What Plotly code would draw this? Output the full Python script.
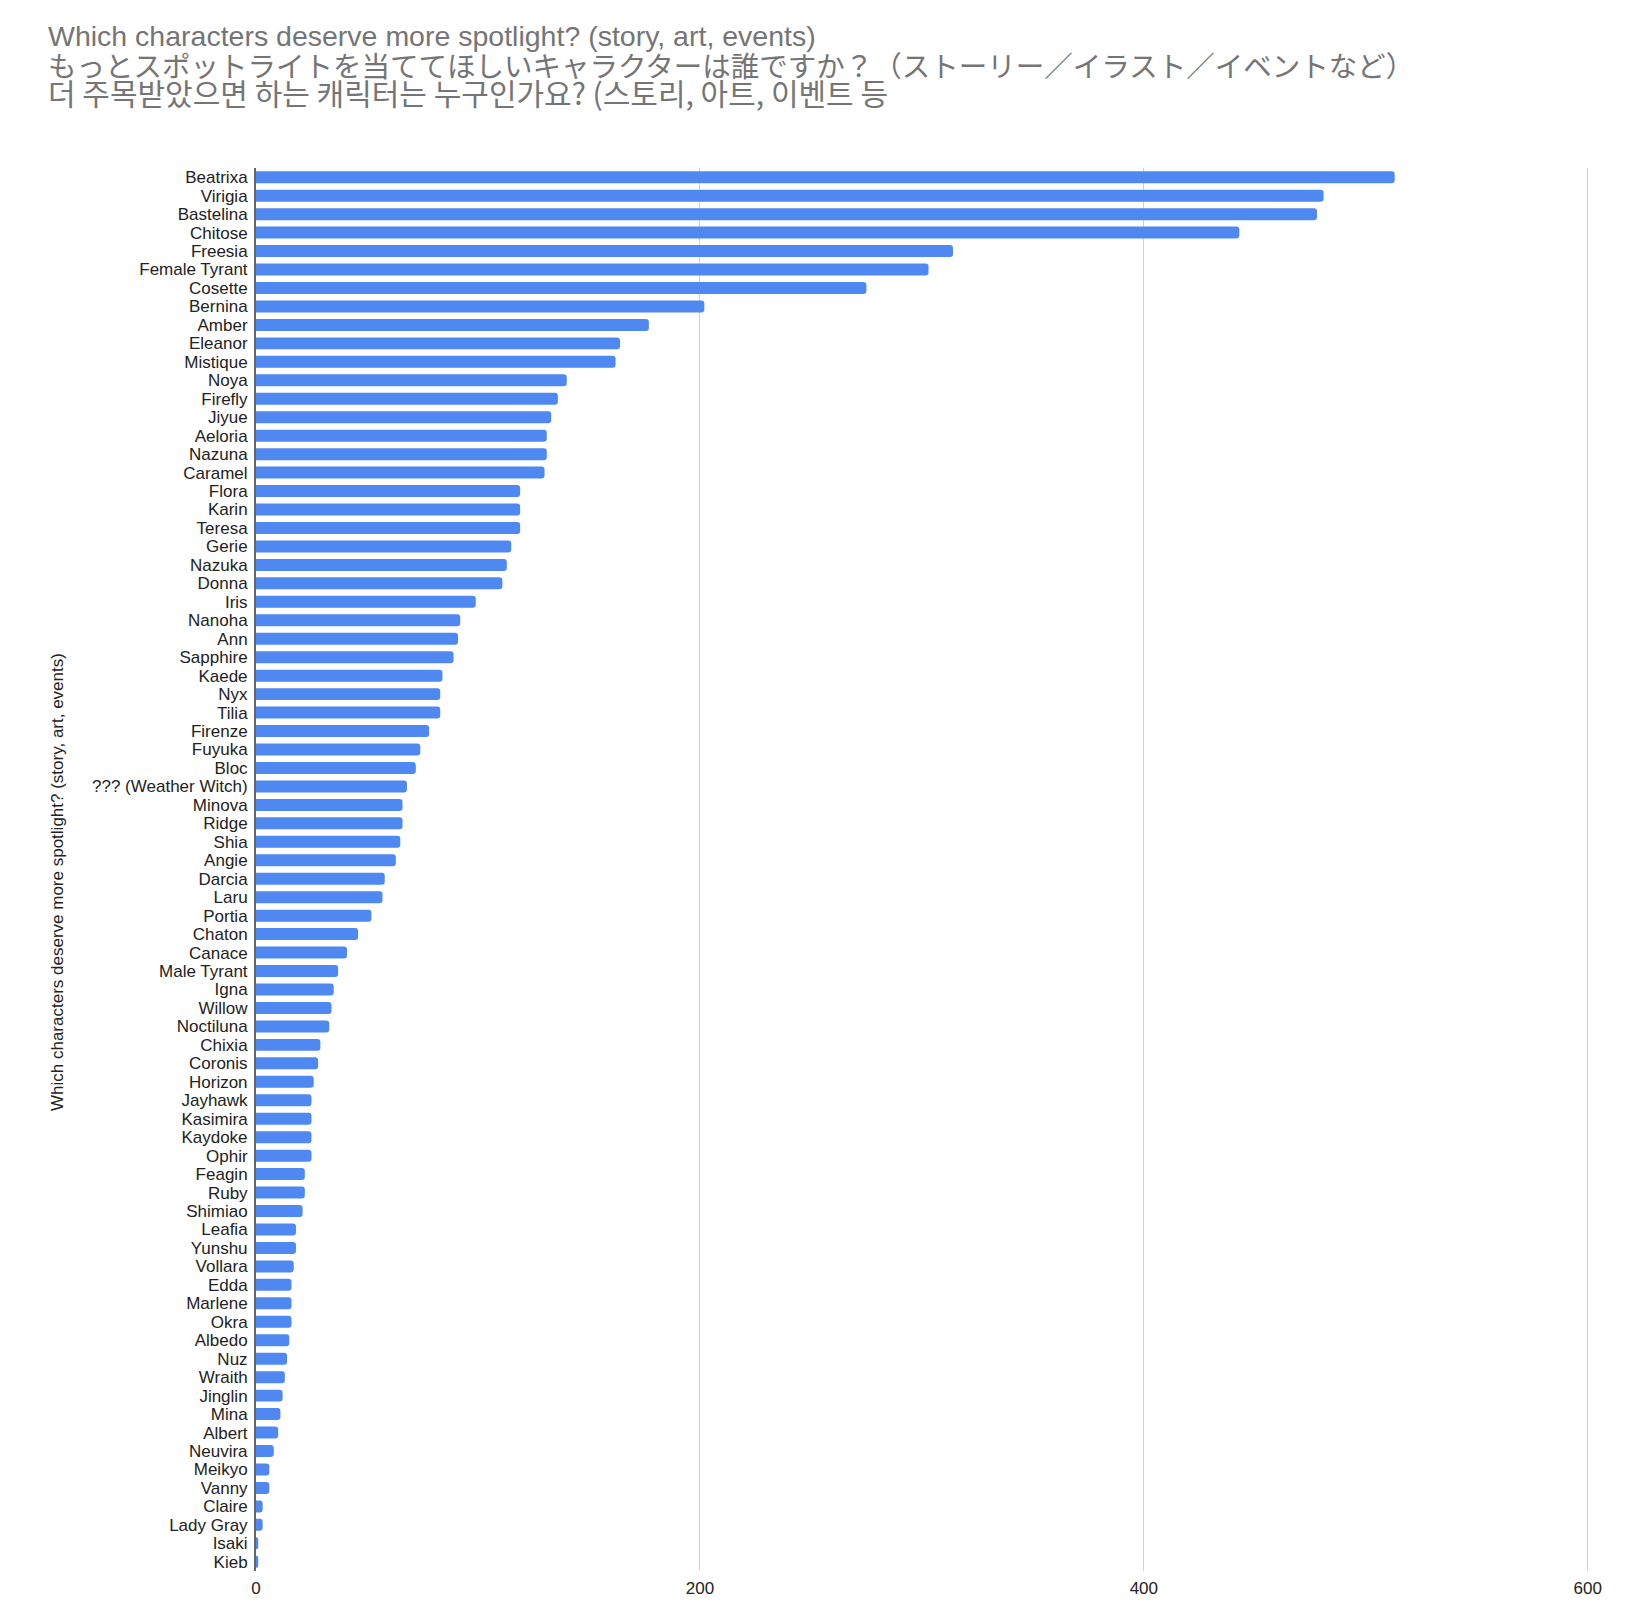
import plotly.graph_objects as go

# characters, top to bottom as in the chart
names = [
    "Beatrixa", "Virigia", "Bastelina", "Chitose", "Freesia", "Female Tyrant",
    "Cosette", "Bernina", "Amber", "Eleanor", "Mistique", "Noya", "Firefly",
    "Jiyue", "Aeloria", "Nazuna", "Caramel", "Flora", "Karin", "Teresa",
    "Gerie", "Nazuka", "Donna", "Iris", "Nanoha", "Ann", "Sapphire", "Kaede",
    "Nyx", "Tilia", "Firenze", "Fuyuka", "Bloc", "??? (Weather Witch)",
    "Minova", "Ridge", "Shia", "Angie", "Darcia", "Laru", "Portia", "Chaton",
    "Canace", "Male Tyrant", "Igna", "Willow", "Noctiluna", "Chixia",
    "Coronis", "Horizon", "Jayhawk", "Kasimira", "Kaydoke", "Ophir", "Feagin",
    "Ruby", "Shimiao", "Leafia", "Yunshu", "Vollara", "Edda", "Marlene",
    "Okra", "Albedo", "Nuz", "Wraith", "Jinglin", "Mina", "Albert", "Neuvira",
    "Meikyo", "Vanny", "Claire", "Lady Gray", "Isaki", "Kieb",
]

votes = [
    513, 481, 478, 443, 314, 303,
    275, 202, 177, 164, 162, 140, 136,
    133, 131, 131, 130, 119, 119, 119,
    115, 113, 111, 99, 92, 91, 89, 84,
    83, 83, 78, 74, 72, 68,
    66, 66, 65, 63, 58, 57, 52, 46,
    41, 37, 35, 34, 33, 29,
    28, 26, 25, 25, 25, 25, 22,
    22, 21, 18, 18, 17, 16, 16,
    16, 15, 14, 13, 12, 11, 10, 8,
    6, 6, 3, 3, 1, 1,
]

x_ticks = [0, 200, 400, 600]

title_lines = [
    "Which characters deserve more spotlight? (story, art, events)",
    "もっとスポットライトを当ててほしいキャラクターは誰ですか？（ストーリー／イラスト／イベントなど）",
    "더 주목받았으면 하는 캐릭터는 누구인가요? (스토리, 아트, 이벤트 등",
]
axis_title = "Which characters deserve more spotlight? (story, art, events)"

# page body adds 8px around the figure, so keep it 16px smaller than the window
W, H = 1627, 1603
ml, mr, mt, mb = 248, 45, 160, 40
pw, ph = W - ml - mr, H - mt - mb

fig = go.Figure()
fig.add_trace(go.Bar(
    x=votes, y=names, orientation="h",
    marker=dict(color="#4F88F1", cornerradius=3, line=dict(width=0)),
    hoverinfo="x+y",
))

base = "Arial, Liberation Sans, sans-serif"
fonts = [
    dict(family=base, size=28.5, color="#757575"),
    dict(family="Noto Sans CJK JP, " + base, size=28.5, color="#757575"),
    dict(family="Noto Sans CJK KR, " + base, size=30, color="#757575"),
]
line_y = [28, 56, 84]
for txt, f, yy in zip(title_lines, fonts, line_y):
    fig.add_annotation(
        text=txt, font=f, showarrow=False,
        xref="paper", yref="paper",
        x=(39 - ml) / pw, y=(H - mb - yy) / ph,
        xanchor="left", yanchor="middle", borderpad=0,
    )

fig.add_annotation(
    text=axis_title, textangle=-90, showarrow=False,
    font=dict(family=base, size=17, color="#222222"),
    xref="paper", yref="paper",
    x=(49 - ml) / pw, y=(H - mb - 874) / ph,
    xanchor="center", yanchor="middle",
)

fig.update_layout(
    width=W, height=H,
    margin=dict(l=ml, r=mr, t=mt, b=mb),
    paper_bgcolor="white", plot_bgcolor="white",
    bargap=0.35,
    showlegend=False,
    font=dict(family=base, size=17, color="#222222"),
)
fig.update_xaxes(
    range=[0, 601], tickvals=x_ticks, ticktext=[str(v) for v in x_ticks],
    showgrid=True, gridcolor="#D0D0D0", gridwidth=1.2,
    zeroline=False, showline=False, ticks="",
    tickfont=dict(family=base, size=17, color="#222222"),
    ticklabelstandoff=5,
)
fig.update_yaxes(
    tickmode="array", tickvals=names, ticktext=names,
    autorange="reversed", showgrid=False, zeroline=False,
    showline=True, linecolor="#666666", linewidth=2, ticks="",
    tickfont=dict(family=base, size=17, color="#222222"),
    ticklabelstandoff=3,
)

fig.write_html("out.html")
